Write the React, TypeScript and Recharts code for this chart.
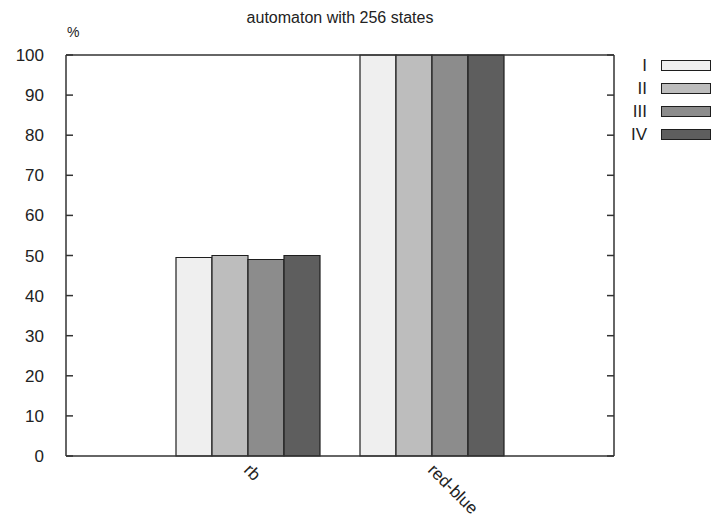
import React from 'react';
import { BarChart, Bar, XAxis, YAxis, ReferenceLine } from 'recharts';

const categories = ['rb', 'red-blue'];
const seriesI = [49.5, 100];
const seriesII = [50, 100];
const seriesIII = [49, 100];
const seriesIV = [50, 100];
const seriesNames = ['I', 'II', 'III', 'IV'];
const seriesColors = ['#efefef', '#bdbdbd', '#8c8c8c', '#5e5e5e'];
const yTicks = [0, 10, 20, 30, 40, 50, 60, 70, 80, 90, 100];
const title = 'automaton with 256 states';
const yUnit = '%';

const data = categories.map((c, i) => ({
  name: c,
  I: seriesI[i],
  II: seriesII[i],
  III: seriesIII[i],
  IV: seriesIV[i],
}));

const FONT = '"Liberation Sans", Arial, sans-serif';
const AXIS = '#333';
const CHART_W = 720;
const CHART_H = 523;
const LEFT_W = 66;
const RIGHT_W = 106;
const PLOT_W = CHART_W - LEFT_W - RIGHT_W;
const TICK_LEN = 7;

function LeftTick(props: any) {
  const { x, y, payload } = props;
  const px = Number(x);
  const py = Number(y);
  return (
    <g>
      <path d={`M${px},${py}H${px + TICK_LEN}`} stroke={AXIS} strokeWidth={1.5} fill="none" />
      <path d={`M${px + PLOT_W - TICK_LEN},${py}H${px + PLOT_W}`} stroke={AXIS} strokeWidth={1.5} fill="none" />
      <text x={px - 22} y={py} dy={6} textAnchor="end" fontSize={17} fill="#222" fontFamily={FONT}>
        {payload.value}
      </text>
    </g>
  );
}

function XTick(props: any) {
  const { x, y, payload } = props;
  const tx = x - 5;
  const ty = y + 7;
  return (
    <text
      x={tx}
      y={ty}
      transform={`rotate(45 ${tx} ${ty})`}
      textAnchor="start"
      fontSize={17}
      fill="#222"
      fontFamily={FONT}
    >
      {payload.value}
    </text>
  );
}

export default function App() {
  return (
    <div style={{ position: 'absolute', left: 0, top: 0, width: CHART_W, height: CHART_H, background: '#fff', fontFamily: FONT }}>
      <div style={{ position: 'absolute', left: LEFT_W, width: PLOT_W, top: 9, textAlign: 'center', fontSize: 16, color: '#222' }}>
        {title}
      </div>
      <div style={{ position: 'absolute', left: 67, top: 24, fontSize: 14, color: '#222' }}>{yUnit}</div>
      <BarChart
        width={CHART_W}
        height={CHART_H}
        data={data}
        margin={{ top: 55, right: 0, left: 0, bottom: 0 }}
        barSize={36}
        barGap={0}
      >
        <XAxis
          dataKey="name"
          xAxisId={0}
          height={67}
          padding={{ left: 90, right: 90 }}
          tickLine={false}
          axisLine={{ stroke: AXIS, strokeWidth: 1.5 }}
          tick={XTick}
          interval={0}
        />
        <YAxis
          yAxisId="left"
          orientation="left"
          width={LEFT_W}
          domain={[0, 100]}
          ticks={yTicks}
          tickLine={false}
          tickSize={0}
          tickMargin={0}
          axisLine={{ stroke: AXIS, strokeWidth: 1.5 }}
          tick={LeftTick}
          interval={0}
        />
        <YAxis
          yAxisId="right"
          orientation="right"
          width={RIGHT_W}
          domain={[0, 100]}
          ticks={yTicks}
          tickLine={false}
          tick={false}
          axisLine={{ stroke: AXIS, strokeWidth: 1.5 }}
        />
        <ReferenceLine yAxisId="left" y={100} stroke={AXIS} strokeWidth={1.5} />
        {seriesNames.map((n, i) => (
          <Bar
            key={n}
            dataKey={n}
            yAxisId="left"
            fill={seriesColors[i]}
            stroke="#1e1e1e"
            strokeWidth={1.2}
            isAnimationActive={false}
          />
        ))}
      </BarChart>
      <div style={{ position: 'absolute', left: 600, top: 54 }}>
        {seriesNames.map((n, i) => (
          <div key={n} style={{ display: 'flex', alignItems: 'center', height: 23 }}>
            <span style={{ width: 47, textAlign: 'right', fontSize: 17, color: '#222', lineHeight: '23px' }}>{n}</span>
            <span
              style={{
                marginLeft: 14,
                width: 48,
                height: 9,
                background: seriesColors[i],
                border: '1.2px solid #1e1e1e',
                display: 'inline-block',
              }}
            />
          </div>
        ))}
      </div>
    </div>
  );
}
